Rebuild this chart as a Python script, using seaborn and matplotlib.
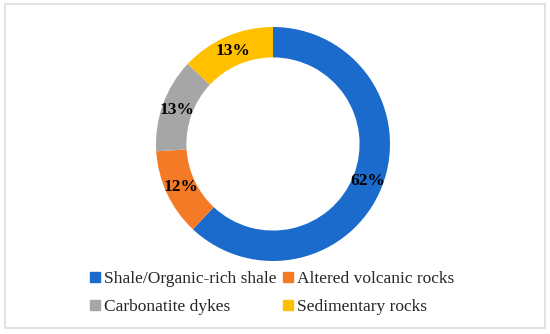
import matplotlib
matplotlib.use("Agg")
import matplotlib.pyplot as plt
from matplotlib.lines import Line2D
from matplotlib.patches import Rectangle
import seaborn as sns

sns.set_theme(style="white")
plt.rcParams['font.family'] = ['Liberation Serif', 'DejaVu Serif']

categories = ["Shale/Organic-rich shale", "Altered volcanic rocks",
              "Carbonatite dykes", "Sedimentary rocks"]
shares = [62, 12, 13, 13]
colors = ["#1A6BCB", "#F57A26", "#A6A6A6", "#FFC000"]

fig = plt.figure(figsize=(5.5, 3.34), dpi=100)
ax = fig.add_axes([0.2836, 0.2186, 0.4255, 0.7006])

wedges, texts, autotexts = ax.pie(
    shares, colors=colors, startangle=90, counterclock=False,
    radius=1.0, wedgeprops=dict(width=0.26, linewidth=0),
    autopct=lambda p: f"{p:.0f}%", pctdistance=0.87,
    textprops=dict(fontsize=12.5, fontweight="bold", color="black"))
ax.set_aspect("equal")
ax.set_xlim(-1, 1)
ax.set_ylim(-1, 1)
ax.axis("off")

# legend reads row by row, matplotlib fills columns first
order = [0, 2, 1, 3]
handles = [Line2D([], [], marker="s", linestyle="none", markersize=7,
                  markerfacecolor=colors[i], markeredgecolor=colors[i])
           for i in order]
labels = [categories[i] for i in order]
fig.legend(handles, labels, ncol=2, loc="center",
           bbox_to_anchor=(0.493, 0.122), frameon=False, fontsize=12.5,
           handletextpad=0.1, columnspacing=0.3, labelspacing=0.7,
           handlelength=0.8)

fig.patches.append(Rectangle((5 / 550, 6 / 334), 540 / 550, 324 / 334,
                             transform=fig.transFigure, fill=False,
                             edgecolor="#DADDE0", linewidth=1.2))

fig.savefig("out.png", dpi=100, facecolor="white")
